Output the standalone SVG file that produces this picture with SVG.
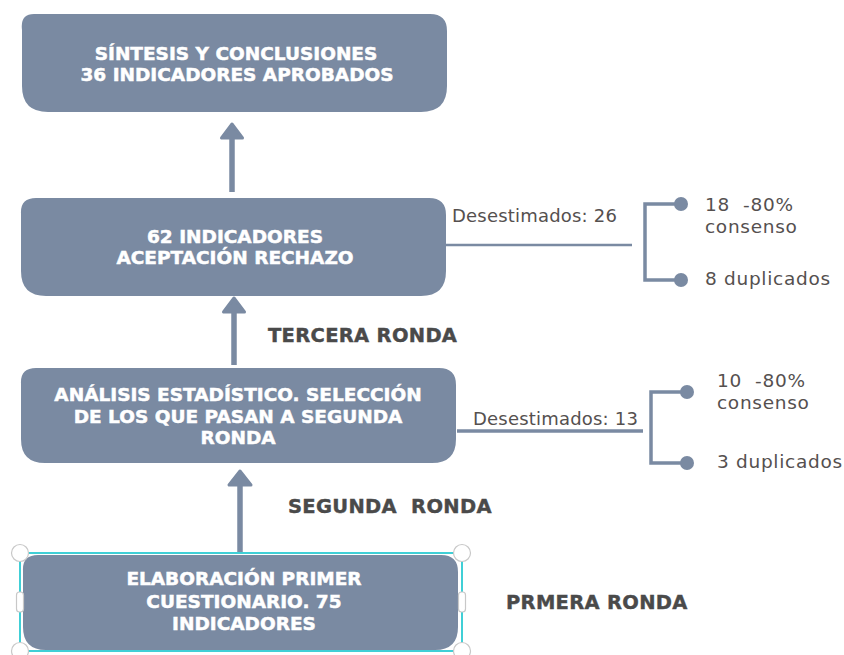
<svg xmlns="http://www.w3.org/2000/svg" width="844" height="655" viewBox="0 0 844 655">
<style>
.box{fill:#7a8aa2;}
.bt{font-family:"DejaVu Sans","Liberation Sans",sans-serif;font-weight:bold;font-size:18.5px;fill:#ffffff;stroke:#ffffff;stroke-width:0.5px;text-anchor:middle;}
.lbl{font-family:"DejaVu Sans","Liberation Sans",sans-serif;font-weight:bold;font-size:19.5px;fill:#4a4a4a;stroke:#4a4a4a;stroke-width:0.4px;letter-spacing:0.3px;}
.rt{font-family:"DejaVu Sans","Liberation Sans",sans-serif;font-size:18.5px;fill:#55504f;letter-spacing:0.7px;}
.rd{font-family:"DejaVu Sans","Liberation Sans",sans-serif;font-size:18px;fill:#55504f;letter-spacing:0.2px;}
.ln{stroke:#7a8aa2;stroke-width:3.5;fill:none;}
.thin{stroke:#7a8aa2;stroke-width:2.5;fill:none;}
.shaft{stroke:#7a8aa2;stroke-width:5.5;fill:none;}
.head{fill:#7a8aa2;stroke:#7a8aa2;stroke-width:3;stroke-linejoin:round;}
.dot{fill:#7a8aa2;}
.hdl{fill:#ffffff;stroke:#c8c8c8;stroke-width:1.2;}
</style>

<g id="connectors">
  <line class="shaft" x1="232" y1="192" x2="232" y2="136"/>
  <polygon class="head" points="232,124 221.5,138 242.5,138"/>
  <line class="shaft" x1="234" y1="365" x2="234" y2="310"/>
  <polygon class="head" points="234,298 223.5,312 244.5,312"/>
  <line class="shaft" x1="240" y1="553" x2="240" y2="483"/>
  <polygon class="head" points="240,471 229,485 251,485"/>

  <line class="thin" x1="445" y1="245" x2="632" y2="245"/>
  <polyline class="ln" points="680,204 645,204 645,280 680,280"/>
  <circle class="dot" cx="681" cy="204" r="7"/>
  <circle class="dot" cx="681" cy="280" r="7"/>

  <line class="ln" x1="457" y1="431" x2="643" y2="431"/>
  <polyline class="ln" points="686,392 651,392 651,463 686,463"/>
  <circle class="dot" cx="687" cy="392" r="7"/>
  <circle class="dot" cx="687" cy="463" r="7"/>
</g>

<g id="node-sintesis">
  <path class="box" d="M34,14 H430 Q447,14 447,31 V86 Q447,112 421,112 H48 Q22,112 22,86 V30 Q20,14 34,14 Z"/>
  <text class="bt" x="236" y="60">SÍNTESIS Y CONCLUSIONES</text>
  <text class="bt" x="237" y="81">36 INDICADORES APROBADOS</text>
</g>

<g id="node-62">
  <path class="box" d="M36,198 H429 Q446,198 446,215 V271 Q446,296 421,296 H46 Q21,296 21,271 V214 Q20,198 36,198 Z"/>
  <text class="bt" x="235" y="243">62 INDICADORES</text>
  <text class="bt" x="235" y="264">ACEPTACIÓN RECHAZO</text>
</g>

<g id="node-analisis">
  <path class="box" d="M36,368 H439 Q456,368 456,385 V439 Q456,463 432,463 H45 Q21,463 21,439 V384 Q20,368 36,368 Z"/>
  <text class="bt" x="238" y="401">ANÁLISIS ESTADÍSTICO. SELECCIÓN</text>
  <text class="bt" x="238" y="423">DE LOS QUE PASAN A SEGUNDA</text>
  <text class="bt" x="238" y="444">RONDA</text>
</g>

<g id="node-elaboracion">
  <path class="box" d="M38,555 H441 Q458,555 458,572 V627 Q458,650 435,650 H46 Q23,650 23,627 V571 Q22,555 38,555 Z"/>
  <rect x="20" y="553" width="442" height="98" fill="none" stroke="#40cfd6" stroke-width="2"/>
  <circle class="hdl" cx="20" cy="553" r="8.5"/>
  <circle class="hdl" cx="462" cy="553" r="8.5"/>
  <circle class="hdl" cx="20" cy="651" r="8.5"/>
  <circle class="hdl" cx="462" cy="651" r="8.5"/>
  <rect class="hdl" x="16.5" y="592" width="7" height="20" rx="3"/>
  <rect class="hdl" x="458.5" y="592" width="7" height="20" rx="3"/>
  <text class="bt" x="244" y="585">ELABORACIÓN PRIMER</text>
  <text class="bt" x="244" y="608">CUESTIONARIO. 75</text>
  <text class="bt" x="244" y="630">INDICADORES</text>
</g>

<g id="labels">
  <text class="lbl" x="268" y="342">TERCERA RONDA</text>
  <text class="lbl" x="288" y="513" xml:space="preserve">SEGUNDA  RONDA</text>
  <text class="lbl" x="506" y="609">PRMERA RONDA</text>
</g>

<g id="desestimados-26">
  <text class="rd" x="452" y="222">Desestimados: 26</text>
  <text class="rt" x="705" y="211" xml:space="preserve">18  -80%</text>
  <text class="rt" x="705" y="233">consenso</text>
  <text class="rt" x="705" y="285">8 duplicados</text>
</g>

<g id="desestimados-13">
  <text class="rd" x="473" y="425">Desestimados: 13</text>
  <text class="rt" x="717" y="387" xml:space="preserve">10  -80%</text>
  <text class="rt" x="717" y="409">consenso</text>
  <text class="rt" x="717" y="468">3 duplicados</text>
</g>
</svg>
